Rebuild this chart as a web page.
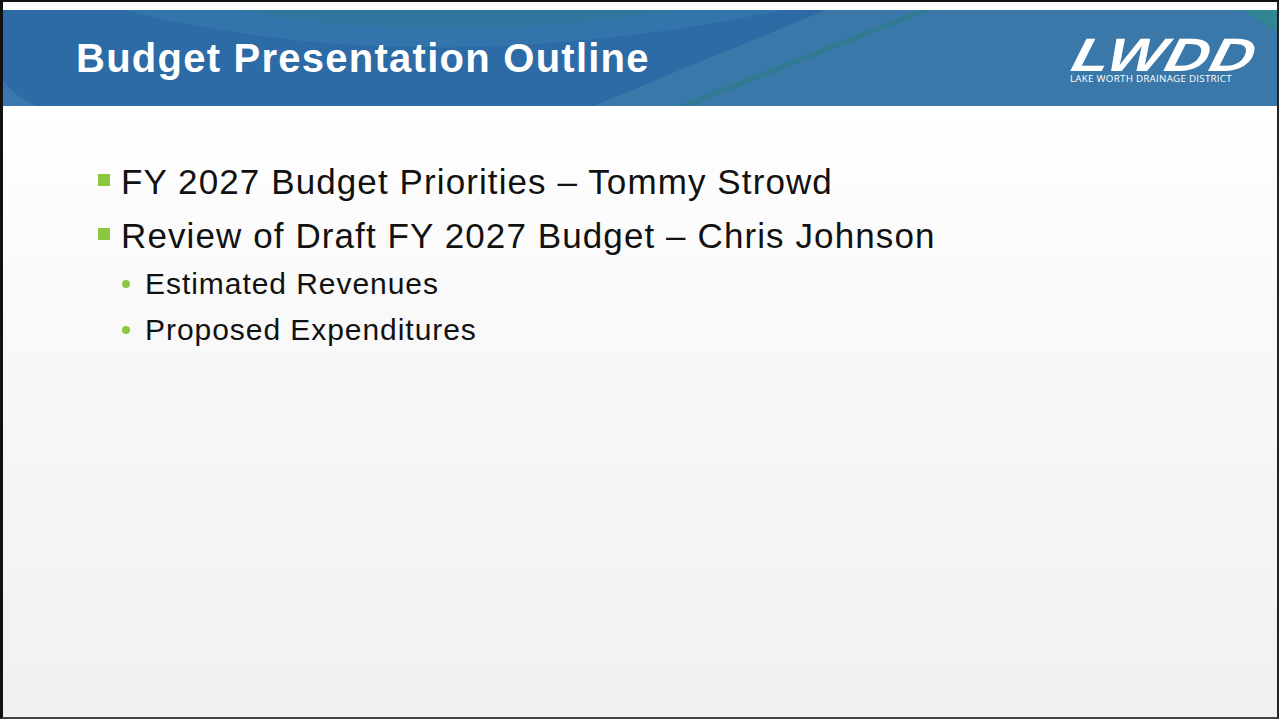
<!DOCTYPE html>
<html>
<head>
<meta charset="utf-8">
<script src="https://cdn.jsdelivr.net/npm/chart.js"></script>
<style>
  html, body { margin: 0; padding: 0; }
  body { width: 1279px; height: 719px; overflow: hidden; font-family: "Liberation Sans", Arial, sans-serif; background: #fff; }
  #slide { position: absolute; left: 0; top: 0; width: 1279px; height: 719px; box-sizing: border-box;
    border-left: 3px solid #111; border-top: 2px solid #111; border-right: 2px solid #222; border-bottom: 2px solid #444;
    background: linear-gradient(to bottom, #ffffff 0px, #ffffff 110px, #f9f9f9 300px, #eff1f0 717px); }
  #header { position: absolute; left: 0; top: 8px; width: 1274px; height: 96px; background: #2c6ba5; overflow: hidden; }
  #header svg { position: absolute; left: 0; top: 0; }
  #title { position: absolute; left: 73px; top: 28px; color: #fff; font-weight: bold; font-size: 40px; line-height: 1;
    letter-spacing: 1.25px; white-space: nowrap; }
  #logo { position: absolute; left: 1077px; top: 18px; color: #fff; font-weight: bold; font-style: italic; font-size: 47px;
    line-height: 1.15; letter-spacing: 0.5px; transform: skewX(-14deg) scaleX(1.3); transform-origin: left top; }
  #logosub { position: absolute; left: 1067px; top: 62px; color: #fff; font-family: "Open Sans", sans-serif; font-size: 9.8px;
    letter-spacing: 0.25px; white-space: nowrap; }
  .l1 { position: absolute; left: 118px; font-size: 35px; line-height: 1; letter-spacing: 1.1px; color: #111; white-space: nowrap; }
  .l2 { position: absolute; left: 142px; font-size: 30px; line-height: 1; letter-spacing: 0.95px; color: #111; white-space: nowrap; }
  .sq { position: absolute; width: 12px; height: 12px; background: #8dc63f; }
  .dot { position: absolute; width: 8px; height: 8px; border-radius: 50%; background: #8dc63f; }
</style>
</head>
<body>
<div id="slide">
  <div id="header">
    <svg width="1274" height="96">
      <path d="M120 0 Q 420 75 780 0 Z" fill="#3a79b0" opacity="0.6"/>
      <path d="M230 0 Q 440 38 680 0 Z" fill="#2f7a92" opacity="0.45"/>
      <path d="M0 70 Q 15 90 35 96 L0 96 Z" fill="#3e7db2" opacity="0.7"/>
      <path d="M590 96 L823 0 L1274 0 L1274 96 Z" fill="#3a78aa"/>
      <path d="M673 96 L915 0 L929 0 L687 96 Z" fill="#2f7b8f" opacity="0.85"/>
      <path d="M1240 0 L1274 0 L1274 22 Z" fill="#2f8a8f" opacity="0.8"/>
    </svg>
    <div id="title"></div>
    <div id="logo">LWDD</div>
    <div id="logosub">LAKE WORTH DRAINAGE DISTRICT</div>
  </div>
  <div id="items"></div>
</div>
<script>
const slideTitle = "Budget Presentation Outline";
const mainItems = ["FY 2027 Budget Priorities \u2013 Tommy Strowd", "Review of Draft FY 2027 Budget \u2013 Chris Johnson"];
const subItems = ["Estimated Revenues", "Proposed Expenditures"];

document.getElementById("title").textContent = slideTitle;

const box = document.getElementById("items");
const rows = [
  { text: mainItems[0], level: 1, top: 162 },
  { text: mainItems[1], level: 1, top: 216 },
  { text: subItems[0], level: 2, top: 267 },
  { text: subItems[1], level: 2, top: 313 }
];
rows.forEach((r) => {
  const t = document.createElement("div");
  t.className = r.level === 1 ? "l1" : "l2";
  t.style.top = r.top + "px";
  t.textContent = r.text;
  box.appendChild(t);
  const b = document.createElement("div");
  if (r.level === 1) {
    b.className = "sq";
    b.style.left = "95px";
    b.style.top = (r.top + 10) + "px";
  } else {
    b.className = "dot";
    b.style.left = "119px";
    b.style.top = (r.top + 11) + "px";
  }
  box.appendChild(b);
});
</script>
</body>
</html>
